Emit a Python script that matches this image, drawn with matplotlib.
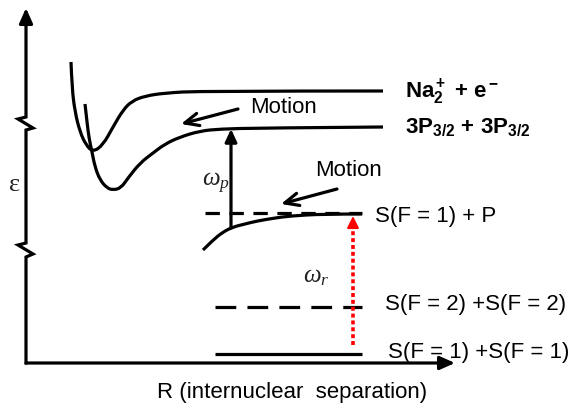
import matplotlib
matplotlib.use("Agg")
import matplotlib.pyplot as plt
from matplotlib.path import Path
from matplotlib.patches import PathPatch

plt.rcParams['font.family'] = ['Liberation Sans', 'DejaVu Sans']
plt.rcParams['mathtext.fontset'] = 'custom'
plt.rcParams['mathtext.rm'] = 'Liberation Sans'
plt.rcParams['mathtext.bf'] = 'Liberation Sans:bold'
plt.rcParams['mathtext.it'] = 'Liberation Serif:italic'

# ---- schematic geometry (pixel coordinates) ----
# potential curve of Na2+ + e-
curve_ion_x = [71, 72, 75, 80, 86, 93, 103, 113, 123, 132, 145, 165, 200, 383]
curve_ion_y = [62, 88, 112, 132, 145, 152, 145, 127, 110, 101, 96, 93, 91, 91]
# potential curve of 3P3/2 + 3P3/2
curve_pp_x = [85, 87, 89, 92, 95, 100, 107, 113, 121, 128, 140, 153, 165, 180, 200, 220, 260, 383]
curve_pp_y = [104, 122, 138, 152, 167, 180, 188, 190, 188, 178, 163, 153, 144, 137, 131, 129, 128, 127]
# potential curve of S(F=1) + P
curve_sp_x = [203, 213, 223, 233, 245, 257, 275, 290, 323, 362]
curve_sp_y = [250, 240, 232, 227, 224, 221, 218, 216, 214, 214]

# asymptote levels
level_sp_y, level_sp_x = 213, (205, 362)
level_f2_y, level_f2_x = 307, (215, 362)
level_f1_y, level_f1_x = 354, (215, 362)

# axes frame (y axis with two break marks)
yaxis_x = [26, 26, 33, 18, 26, 26, 33, 18, 26, 26]
yaxis_y = [363, 257, 254, 245, 243, 130, 128, 119, 117, 20]
yaxis_tip = (26, 8)
xaxis_start, xaxis_tip = (26, 363), (455, 363)

# arrows: (start, tip)
omega_p_arrow = ((231, 228), (231, 129))
omega_r_arrow = ((353, 345), (353, 216))
motion_arrows = [((238, 109), (181, 124)), ((337, 189), (281, 204))]

# texts: (x, baseline y, string)
labels = [
    (405, 98, r'$\mathbf{Na_2^+}$ $\mathbf{+}$ $\mathbf{e^-}$'),
    (405, 133, r'$\mathbf{3P_{3/2}}$ $\mathbf{+}$ $\mathbf{3P_{3/2}}$'),
    (375, 222, 'S(F = 1) + P'),
    (385, 310, 'S(F = 2) +S(F = 2)'),
    (388, 358, 'S(F = 1) +S(F = 1)'),
    (250, 113, 'Motion'),
    (315, 176, 'Motion'),
    (157, 398, 'R (internuclear  separation)'),
]
omega_labels = [(216, 183, r'$\omega_p$'), (316, 276, r'$\omega_r$')]
eps_label = (15, 185, 'ε')

LW = 2.3


def smooth(ax, xs, ys, **kw):
    pts = list(zip(xs, ys))
    verts = [pts[0]]
    codes = [Path.MOVETO]
    n = len(pts)
    for i in range(1, n - 1):
        ctrl = pts[i]
        if i == n - 2:
            end = pts[n - 1]
        else:
            end = ((pts[i][0] + pts[i + 1][0]) / 2, (pts[i][1] + pts[i + 1][1]) / 2)
        verts += [ctrl, end]
        codes += [Path.CURVE3, Path.CURVE3]
    ax.add_patch(PathPatch(Path(verts, codes), fill=False, lw=LW, color='black',
                           capstyle='butt', joinstyle='round', **kw))


fig = plt.figure(figsize=(5.77, 4.08), dpi=100)
ax = fig.add_axes([0, 0, 1, 1])
ax.set_xlim(0, 577)
ax.set_ylim(408, 0)
ax.axis('off')

# curves
smooth(ax, curve_ion_x, curve_ion_y)
smooth(ax, curve_pp_x, curve_pp_y)
smooth(ax, curve_sp_x, curve_sp_y)

# levels
ax.plot(level_sp_x, [level_sp_y] * 2, color='black', lw=LW, dashes=(4.5, 3))
ax.plot(level_f2_x, [level_f2_y] * 2, color='black', lw=LW, dashes=(6.5, 3.5))
ax.plot(level_f1_x, [level_f1_y] * 2, color='black', lw=LW, solid_capstyle='butt')

# axes
ax.plot(yaxis_x, yaxis_y, color='black', lw=LW, solid_joinstyle='miter')
ax.annotate('', xy=yaxis_tip, xytext=(yaxis_x[-1], yaxis_y[-1] + 2),
            arrowprops=dict(arrowstyle='-|>,head_length=0.9,head_width=0.4',
                            color='black', lw=LW, mutation_scale=10,
                            shrinkA=0, shrinkB=0))
ax.annotate('', xy=xaxis_tip, xytext=xaxis_start,
            arrowprops=dict(arrowstyle='-|>,head_length=0.9,head_width=0.4',
                            color='black', lw=LW, mutation_scale=10,
                            shrinkA=0, shrinkB=0))

# omega_p arrow
ax.annotate('', xy=omega_p_arrow[1], xytext=omega_p_arrow[0],
            arrowprops=dict(arrowstyle='-|>,head_length=0.75,head_width=0.35',
                            color='black', lw=LW, mutation_scale=10,
                            shrinkA=0, shrinkB=0))

# omega_r red dotted arrow
(rx, ry0), (_, ry1) = omega_r_arrow
ax.plot([rx, rx], [ry0, ry1 + 8], color='#ff0000', lw=2.6, dashes=(1.1, 0.8))
ax.annotate('', xy=(rx, ry1), xytext=(rx, ry1 + 9),
            arrowprops=dict(arrowstyle='-|>,head_length=0.7,head_width=0.35',
                            color='#ff0000', lw=1.5, mutation_scale=10,
                            shrinkA=0, shrinkB=0))

# motion arrows
for (s, t) in motion_arrows:
    ax.annotate('', xy=t, xytext=s,
                arrowprops=dict(arrowstyle='->,head_length=1.0,head_width=0.45',
                                color='black', lw=LW, mutation_scale=10,
                                shrinkA=0, shrinkB=0))

# texts
for x, y, s in labels:
    ax.text(x, y, s, fontsize=16, ha='left', va='baseline', color='black')
for x, y, s in omega_labels:
    ax.text(x, y, s, fontsize=18, ha='center', va='center', color='#222222')
ax.text(eps_label[0], eps_label[1], eps_label[2], fontsize=19, ha='center',
        va='center', family='Liberation Serif', color='#222222')

fig.savefig('out.png', dpi=100)
